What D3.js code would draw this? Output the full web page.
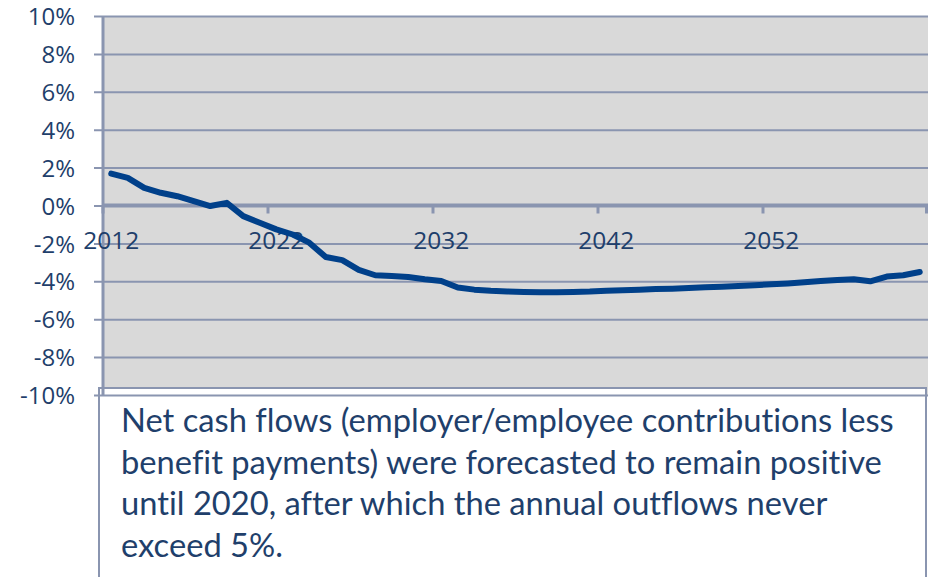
<!DOCTYPE html>
<html>
<head>
<meta charset="utf-8">
<script src="https://cdn.jsdelivr.net/npm/d3@7/dist/d3.min.js"></script>
<style>
  html, body { margin: 0; padding: 0; background: #ffffff; }
  svg { display: block; }
  .note { font-variant-ligatures: none; font-feature-settings: "liga" 0; }
</style>
</head>
<body>
<svg id="chart" width="934" height="577"></svg>
<script>
// Projected net cash flow as % of assets, 2012-2061
const years = d3.range(2012, 2062);
const netCashFlow = [
  1.68, 1.46, 0.93, 0.67, 0.49, 0.23, -0.03, 0.14, -0.56, -0.91,
  -1.26, -1.53, -1.96, -2.72, -2.88, -3.40, -3.68, -3.72, -3.77, -3.89,
  -3.98, -4.33, -4.44, -4.50, -4.54, -4.56, -4.58, -4.58, -4.56, -4.54,
  -4.50, -4.47, -4.44, -4.41, -4.39, -4.36, -4.32, -4.29, -4.25, -4.21,
  -4.16, -4.11, -4.05, -3.99, -3.93, -3.89, -4.00, -3.75, -3.68, -3.51
];
const yTicks = [-10, -8, -6, -4, -2, 0, 2, 4, 6, 8, 10];
const xTickLabels = [2012, 2022, 2032, 2042, 2052];
const noteLines = [
  "Net cash flows (employer/employee contributions less",
  "benefit payments) were forecasted to remain positive",
  "until 2020, after which the annual outflows never",
  "exceed 5%."
];

const axisColor = "#8a95b0";
const textColor = "#1f3f6b";
const lineColor = "#00408a";

const svg = d3.select("#chart");
const plot = { left: 103, right: 928, top: 16, bottom: 395 };

const x = d3.scaleBand().domain(years).range([plot.left, plot.right]).padding(0);
const y = d3.scaleLinear().domain([-10, 10]).range([plot.bottom, plot.top]);

// plot background
svg.append("rect")
  .attr("x", plot.left).attr("y", plot.top)
  .attr("width", plot.right - plot.left).attr("height", plot.bottom - plot.top)
  .attr("fill", "#d9d9d9");

// annotation box sitting over the lower part of the chart
svg.append("rect")
  .attr("x", 99).attr("y", 388)
  .attr("width", 827).attr("height", 200)
  .attr("fill", "#ffffff")
  .attr("stroke", axisColor).attr("stroke-width", 2);

// horizontal gridlines with short ticks on the left
const yAxis = d3.axisLeft(y)
  .tickValues(yTicks)
  .tickSize(-(plot.right - plot.left))
  .tickPadding(28)
  .tickFormat(d => d + "%");

const gy = svg.append("g")
  .attr("transform", `translate(${plot.left},0)`)
  .call(yAxis);
gy.select(".domain").remove();
gy.selectAll(".tick line")
  .attr("x1", -9)
  .attr("stroke", axisColor)
  .attr("stroke-width", 2);
gy.selectAll(".tick text")
  .attr("fill", textColor)
  .attr("font-family", "'Open Sans', sans-serif")
  .attr("font-size", 24)
  .attr("dy", "0.36em");

// vertical axis line
svg.append("line")
  .attr("x1", plot.left).attr("x2", plot.left)
  .attr("y1", plot.top).attr("y2", plot.bottom)
  .attr("stroke", axisColor).attr("stroke-width", 3);

// category axis along the zero line
const y0 = y(0);
const xAxis = d3.axisBottom(x)
  .tickValues(xTickLabels)
  .tickSize(0)
  .tickPadding(26);
const gx = svg.append("g")
  .attr("transform", `translate(0,${y0})`)
  .call(xAxis);
gx.select(".domain").remove();
gx.selectAll(".tick text")
  .attr("fill", textColor)
  .attr("font-family", "'Open Sans', sans-serif")
  .attr("font-size", 24.5);

svg.append("line")
  .attr("x1", plot.left).attr("x2", plot.right)
  .attr("y1", y0).attr("y2", y0)
  .attr("stroke", axisColor).attr("stroke-width", 4);

// tick marks on category boundaries every ten years
const boundaryYears = [2012, 2022, 2032, 2042, 2052];
svg.append("g").selectAll("line")
  .data(boundaryYears.concat(["end"]))
  .join("line")
  .attr("x1", d => d === "end" ? plot.right - 1.5 : x(d))
  .attr("x2", d => d === "end" ? plot.right - 1.5 : x(d))
  .attr("y1", y0).attr("y2", y0 + 8)
  .attr("stroke", axisColor).attr("stroke-width", 3);

// series line
const line = d3.line()
  .x((d, i) => x(years[i]) + x.bandwidth() / 2)
  .y(d => y(d));

svg.append("path")
  .datum(netCashFlow)
  .attr("d", line)
  .attr("fill", "none")
  .attr("stroke", lineColor)
  .attr("stroke-width", 6)
  .attr("stroke-linejoin", "round")
  .attr("stroke-linecap", "round");

// annotation text
svg.append("g").selectAll("text")
  .data(noteLines)
  .join("text")
  .attr("class", "note")
  .attr("x", 121)
  .attr("y", (d, i) => 432 + i * 41.5)
  .attr("fill", textColor)
  .attr("font-family", "Lato, sans-serif")
  .attr("font-size", 32.7)
  .text(d => d);
</script>
</body>
</html>
